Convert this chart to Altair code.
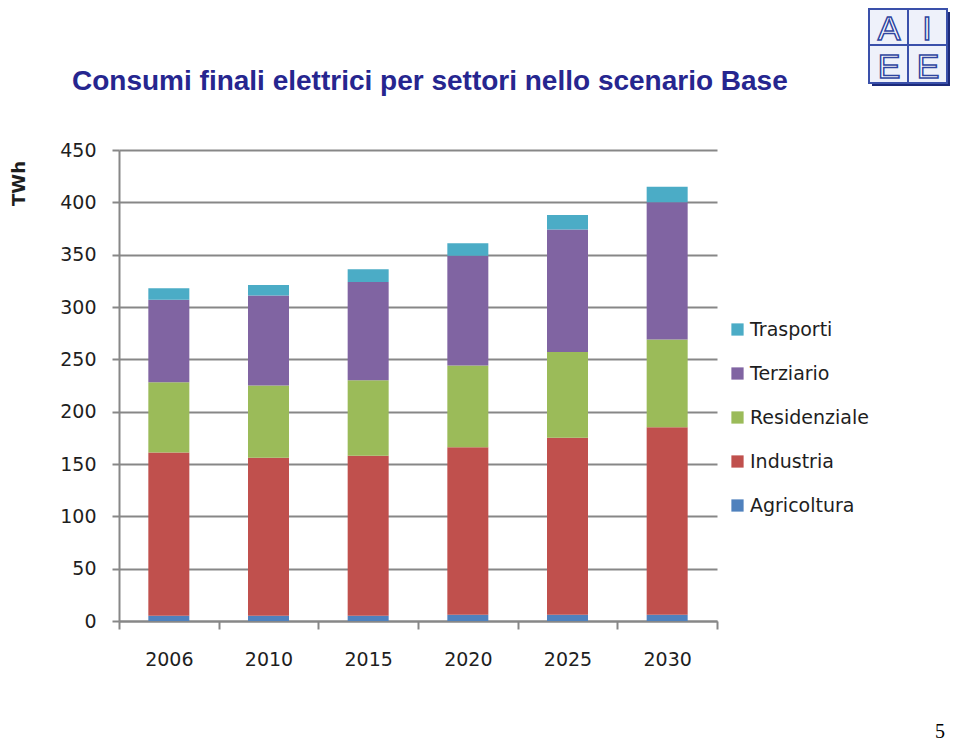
import altair as alt
import pandas as pd

years = ["2006", "2010", "2015", "2020", "2025", "2030"]
agricoltura = [5, 5, 5, 6, 6, 6]
industria = [156, 151, 153, 160, 169, 179]
residenziale = [67, 69, 72, 78, 82, 84]
terziario = [79, 86, 94, 105, 117, 131]
trasporti = [11, 10, 12, 12, 14, 15]

sectors = ["Agricoltura", "Industria", "Residenziale", "Terziario", "Trasporti"]
series = [agricoltura, industria, residenziale, terziario, trasporti]
colors = ["#4f81bd", "#c0504d", "#9bbb59", "#8064a2", "#4bacc6"]

rows = []
for si, (name, vals) in enumerate(zip(sectors, series)):
    for y, v in zip(years, vals):
        rows.append({"anno": y, "settore": name, "twh": v, "ord": si})
df = pd.DataFrame(rows)

legend_order = sectors[::-1]
legend_colors = colors[::-1]

GRID = "#878787"
FONT = "DejaVu Sans"
TXT = "#1e1e1e"

bars = alt.Chart(df).mark_bar(size=41).encode(
    x=alt.X("anno:N", title=None,
            scale=alt.Scale(paddingInner=0, paddingOuter=0),
            axis=alt.Axis(labelAngle=0, tickBand="extent", tickSize=8, tickColor=GRID,
                          tickWidth=2, domainColor=GRID, domainWidth=2,
                          labelFont=FONT, labelFontSize=19, labelColor=TXT,
                          labelPadding=21, grid=False)),
    y=alt.Y("twh:Q", stack="zero",
            scale=alt.Scale(domain=[0, 450], nice=False),
            axis=alt.Axis(values=list(range(0, 451, 50)), title="TWh",
                          titleAngle=270, titleX=-100, titleY=33, titleAlign="center",
                          titleBaseline="middle", titleFont=FONT, titleFontSize=18,
                          titleFontWeight="bold", titleColor=TXT,
                          labelFont=FONT, labelFontSize=19, labelColor=TXT,
                          labelPadding=16, tickSize=7, tickColor=GRID, tickWidth=2,
                          domainColor=GRID, domainWidth=2,
                          grid=True, gridColor=GRID, gridWidth=2)),
    color=alt.Color("settore:N",
                    scale=alt.Scale(domain=legend_order, range=legend_colors),
                    legend=alt.Legend(title=None, orient="none", legendX=609, legendY=170,
                                      symbolType="square", symbolSize=150,
                                      symbolStrokeWidth=0, labelFont=FONT,
                                      labelFontSize=19, labelColor=TXT,
                                      rowPadding=24, labelOffset=3, labelLimit=300)),
    order=alt.Order("ord:Q", sort="ascending"),
)

one = pd.DataFrame({"k": [0]})

title = alt.Chart(one).mark_text(
    text="Consumi finali elettrici per settori nello scenario Base",
    font="Liberation Sans", fontSize=28, fontWeight="bold", color="#26268f",
    align="left", baseline="alphabetic",
).encode(x=alt.value(-47), y=alt.value(-60))

# logo
logo_shadow = alt.Chart(one).mark_rect(color="#1c2a7a").encode(
    x=alt.value(753), x2=alt.value(831), y=alt.value(-138), y2=alt.value(-64))
logo_box = alt.Chart(one).mark_rect(fill="#eef1fa", stroke="#3a50aa", strokeWidth=2).encode(
    x=alt.value(750), x2=alt.value(828), y=alt.value(-141), y2=alt.value(-67))
logo_v = alt.Chart(one).mark_rule(color="#3a50aa", strokeWidth=2).encode(
    x=alt.value(789), y=alt.value(-141), y2=alt.value(-67))
logo_h = alt.Chart(one).mark_rule(color="#3a50aa", strokeWidth=2).encode(
    x=alt.value(750), x2=alt.value(828), y=alt.value(-105))
logo_df = pd.DataFrame({"t": ["A", "I", "E", "E"],
                        "px": [770, 808, 770, 809],
                        "py": [-110, -110, -72, -72]})
logo_txt = alt.Chart(logo_df).mark_text(
    font="Liberation Sans", fontSize=34, fill="white", stroke="#2f45a0",
    strokeWidth=1.5, align="center", baseline="alphabetic",
).encode(text="t:N", x=alt.X("px:Q", scale=None), y=alt.Y("py:Q", scale=None))

page_no = alt.Chart(one).mark_text(
    text="5", font="Liberation Serif", fontSize=20, color="#000000",
    align="center", baseline="alphabetic",
).encode(x=alt.value(821), y=alt.value(588))

chart = alt.layer(bars, title, logo_shadow, logo_box, logo_v, logo_h, logo_txt, page_no).properties(
    width=598, height=471,
    autosize=alt.AutoSizeParams(type="none"),
    padding={"left": 111, "top": 142, "right": 234, "bottom": 123},
).configure_view(stroke=None)

chart.save("out.html", embed_options={"renderer": "svg", "actions": False})
